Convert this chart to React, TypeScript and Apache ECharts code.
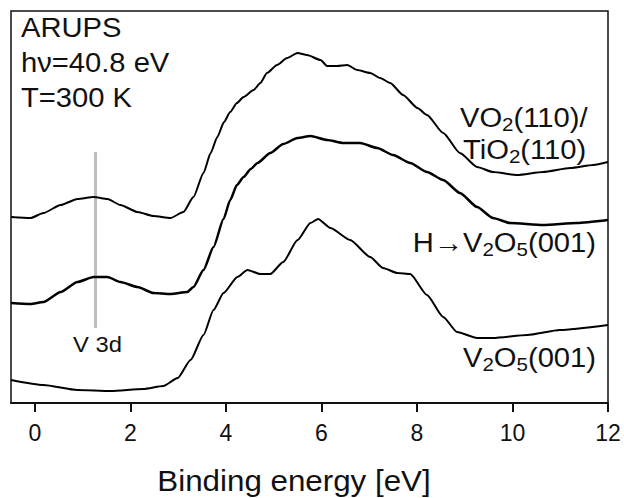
import React, { useEffect, useRef } from "react";
import * as echarts from "echarts";

// Binding energy (eV) and intensity (arb. units)
const vo2Energy = [-0.5, -0.09, 0.18, 0.54, 0.89, 1.23, 1.52, 1.79, 2.15, 2.48, 2.84, 3.11, 3.32, 3.53, 3.68, 3.82, 3.96, 4.09, 4.23, 4.37, 4.58, 4.72, 4.86, 5.07, 5.28, 5.5, 5.7, 5.98, 6.12, 6.33, 6.54, 6.75, 7.02, 7.23, 7.44, 7.71, 8.01, 8.21, 8.55, 8.9, 9.26, 9.59, 10.1, 10.64, 11.21, 11.69, 12];
const vo2Intensity = [186, 185, 190, 198, 204, 206, 204, 198, 191, 187, 185, 191, 206, 230, 250, 266, 281, 291, 300, 306, 313, 320, 330, 338, 345, 350, 348, 343, 337, 337, 338, 333, 330, 325, 320, 308, 295, 288, 270, 250, 236, 231, 228, 231, 235, 238, 241];

const hEnergy = [-0.5, -0.09, 0.18, 0.54, 0.89, 1.23, 1.52, 1.79, 2.15, 2.48, 2.84, 3.19, 3.32, 3.53, 3.74, 3.95, 4.09, 4.23, 4.37, 4.52, 4.66, 4.93, 5.2, 5.5, 5.77, 6.12, 6.46, 6.81, 7.17, 7.5, 7.86, 8.21, 8.55, 8.9, 9.26, 9.59, 9.95, 10.64, 11.35, 12];
const hIntensity = [100, 99, 101, 111, 121, 126, 126, 121, 116, 110, 109, 111, 116, 133, 156, 184, 203, 218, 226, 234, 240, 250, 259, 265, 267, 263, 260, 260, 255, 248, 240, 231, 223, 210, 196, 185, 180, 178, 180, 183];

const v2o5Energy = [-0.5, 0.18, 0.89, 1.59, 2.27, 2.69, 2.99, 3.26, 3.53, 3.74, 3.95, 4.24, 4.45, 4.72, 4.93, 5.2, 5.5, 5.77, 5.93, 6.19, 6.6, 7.02, 7.29, 7.59, 7.86, 8.21, 8.55, 8.84, 9.26, 9.59, 10.31, 10.99, 12];
const v2o5Intensity = [23, 18, 13, 12, 14, 17, 25, 43, 68, 93, 110, 126, 133, 129, 129, 141, 163, 180, 184, 175, 163, 146, 135, 130, 129, 108, 86, 71, 65, 65, 68, 73, 78];

const v3dEnergy = [1.27, 1.27];
const v3dIntensity = [75, 251];

const xTicks = [0, 2, 4, 6, 8, 10, 12];

const FONT = "'Liberation Sans', Arial, Helvetica, sans-serif";

const zip = (xs: number[], ys: number[]) => xs.map((x, i) => [x, ys[i]]);

export default function App() {
  const ref = useRef<HTMLDivElement>(null);
  useEffect(() => {
    if (!ref.current) return;
    const chart = echarts.init(ref.current, undefined, { renderer: "svg" });
    const main = { fontSize: 27, fontFamily: FONT, color: "#111", lineHeight: 32 };
    const sub = { fontSize: 19, fontFamily: FONT, color: "#111", lineHeight: 10, verticalAlign: "bottom" };
    const rich = { m: main, s: sub };
    const SX = 1.08;
    const plain = (text: string, x: number, y: number, size: number, align = "left") => ({
      type: "text",
      x,
      y,
      scaleX: SX,
      silent: true,
      style: { text, fontSize: size, fontFamily: FONT, fill: "#111", align, verticalAlign: "middle" },
    });
    const richText = (text: string, x: number, y: number, align = "left") => ({
      type: "text",
      x,
      y,
      scaleX: SX,
      silent: true,
      style: { text, rich, fill: "#111", align, verticalAlign: "middle", fontSize: 27, fontFamily: FONT },
    });
    const curve = (name: string, xs: number[], ys: number[], width: number) => ({
      name,
      type: "line",
      data: zip(xs, ys),
      showSymbol: false,
      smooth: 0.2,
      smoothMonotone: "x",
      lineStyle: { color: "#000", width },
      z: 2,
    });
    chart.setOption({
      animation: false,
      backgroundColor: "#fff",
      grid: { left: 11, right: 16, top: 11, bottom: 95, show: true, borderColor: "#111", borderWidth: 1.5 },
      xAxis: {
        type: "value",
        min: -0.5,
        max: 12,
        axisLine: { show: true, onZero: false, lineStyle: { color: "#111", width: 2 } },
        axisTick: { show: true, length: 9, lineStyle: { color: "#111", width: 2 }, customValues: xTicks },
        axisLabel: { show: true, fontSize: 23, fontFamily: FONT, color: "#111", margin: 18, customValues: xTicks },
        splitLine: { show: false },
      },
      yAxis: {
        type: "value",
        min: 0,
        max: 392,
        show: false,
        splitLine: { show: false },
      },
      series: [
        {
          name: "V 3d",
          type: "line",
          data: zip(v3dEnergy, v3dIntensity),
          showSymbol: false,
          lineStyle: { color: "#bdbdbd", width: 3 },
          z: 1,
        },
        curve("VO2(110)/TiO2(110)", vo2Energy, vo2Intensity, 2),
        curve("H→V2O5(001)", hEnergy, hIntensity, 2.5),
        curve("V2O5(001)", v2o5Energy, v2o5Intensity, 2),
      ],
      graphic: [
        plain("ARUPS", 21, 28, 27),
        plain("hν=40.8 eV", 21, 63, 27),
        plain("T=300 K", 21, 98, 27),
        richText("{m|VO}{s|2}{m|(110)/}", 460, 118),
        richText("{m|TiO}{s|2}{m|(110)}", 463, 150),
        richText("{m|H→V}{s|2}{m|O}{s|5}{m|(001)}", 596, 243, "right"),
        richText("{m|V}{s|2}{m|O}{s|5}{m|(001)}", 596, 358, "right"),
        plain("V 3d", 73, 344, 22),
        plain("Binding energy [eV]", 294, 481, 29, "center"),
      ],
    });
    return () => chart.dispose();
  }, []);
  return <div ref={ref} style={{ width: 624, height: 498, position: "absolute", left: 0, top: 0 }} />;
}
